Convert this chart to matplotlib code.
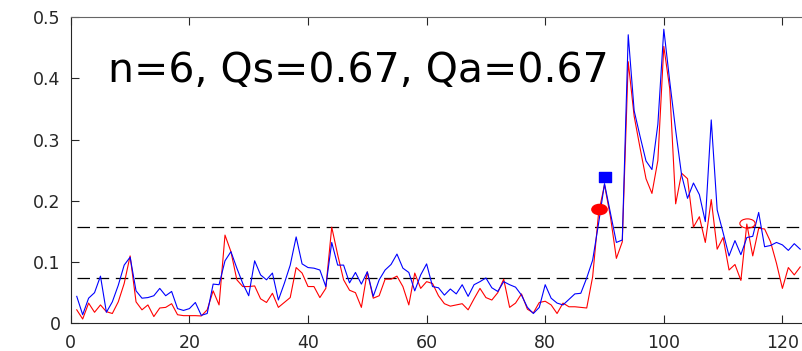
import matplotlib
matplotlib.use("Agg")
import matplotlib.pyplot as plt
import numpy as np
from matplotlib.path import Path

# measured values per step (blue = Qs series, red = Qa series)
steps = np.arange(1, 124)
blue = [0.044, 0.014, 0.041, 0.050, 0.077, 0.018, 0.035, 0.062, 0.095, 0.108,
        0.053, 0.041, 0.042, 0.045, 0.057, 0.045, 0.052, 0.024, 0.021, 0.024,
        0.034, 0.013, 0.016, 0.064, 0.063, 0.102, 0.117, 0.090, 0.065, 0.045,
        0.102, 0.079, 0.071, 0.082, 0.038, 0.065, 0.095, 0.141, 0.097, 0.091,
        0.090, 0.087, 0.060, 0.132, 0.095, 0.095, 0.066, 0.083, 0.064, 0.084,
        0.044, 0.071, 0.087, 0.096, 0.113, 0.090, 0.083, 0.053, 0.079, 0.097,
        0.060, 0.058, 0.046, 0.056, 0.048, 0.063, 0.044, 0.063, 0.068, 0.074,
        0.058, 0.052, 0.068, 0.063, 0.059, 0.046, 0.026, 0.016, 0.026, 0.063,
        0.041, 0.033, 0.030, 0.039, 0.048, 0.049, 0.074, 0.103, 0.163, 0.228,
        0.180, 0.132, 0.136, 0.471, 0.347, 0.305, 0.265, 0.251, 0.325, 0.480,
        0.395, 0.315, 0.242, 0.204, 0.229, 0.210, 0.166, 0.332, 0.185, 0.148,
        0.110, 0.135, 0.112, 0.140, 0.142, 0.181, 0.125, 0.127, 0.132, 0.128,
        0.119, 0.130, 0.121]
red = [0.022, 0.007, 0.033, 0.018, 0.030, 0.019, 0.016, 0.035, 0.065, 0.110,
       0.035, 0.022, 0.030, 0.011, 0.025, 0.026, 0.032, 0.014, 0.0125, 0.0125,
       0.0125, 0.012, 0.022, 0.053, 0.030, 0.144, 0.117, 0.071, 0.060, 0.060,
       0.061, 0.040, 0.034, 0.049, 0.026, 0.034, 0.042, 0.091, 0.082, 0.060,
       0.060, 0.042, 0.057, 0.157, 0.112, 0.071, 0.054, 0.050, 0.026, 0.084,
       0.041, 0.045, 0.072, 0.072, 0.077, 0.060, 0.030, 0.082, 0.057, 0.068,
       0.065, 0.045, 0.032, 0.028, 0.030, 0.032, 0.022, 0.040, 0.057, 0.042,
       0.038, 0.050, 0.072, 0.026, 0.033, 0.048, 0.023, 0.017, 0.034, 0.036,
       0.030, 0.016, 0.033, 0.027, 0.027, 0.026, 0.025, 0.076, 0.180, 0.226,
       0.174, 0.106, 0.133, 0.427, 0.338, 0.286, 0.236, 0.212, 0.266, 0.452,
       0.383, 0.195, 0.245, 0.236, 0.157, 0.174, 0.132, 0.202, 0.121, 0.140,
       0.087, 0.096, 0.070, 0.162, 0.110, 0.155, 0.154, 0.133, 0.098, 0.057,
       0.091, 0.079, 0.092]

thresholds = [0.157, 0.0745]

# detection marks
red_dot = (89.1, 0.187)
blue_square = (90.1, 0.238)
red_ring = (114.1, 0.163)

x_ticks = [0, 20, 40, 60, 80, 100, 120]
y_ticks = [0, 0.1, 0.2, 0.3, 0.4, 0.5]
title = "n=6, Qs=0.67, Qa=0.67"

plt.rcParams['lines.scale_dashes'] = False

fig = plt.figure(figsize=(8.02, 3.51), dpi=100)
ax = fig.add_axes([0.0883, 0.0789, 0.9612, 0.8727])

for t in thresholds:
    ax.plot([1, 130], [t, t], color='black', lw=0.9, dashes=(9, 4.8))

ax.plot(steps, red, color='#ff0000', lw=0.8)
ax.plot(steps, blue, color='#0000ff', lw=0.8)

# stretched marker shapes
circ = Path.unit_circle()
ellipse = Path(circ.vertices * [1.5, 1.0], circ.codes)
ring = Path(circ.vertices * [1.65, 1.0], circ.codes)
box = Path([(-1.12, -1), (1.12, -1), (1.12, 1), (-1.12, 1), (-1.12, -1)], closed=True)

ax.plot(*red_dot, marker=ellipse, ms=11, color='#ff0000', mec='#ff0000')
ax.plot(*blue_square, marker=box, ms=8.7, color='#0000ff', mec='#0000ff')
ax.plot(*red_ring, marker=ring, ms=11, mfc='none', mec='#ff0000', mew=0.8)

ax.text(6.3, 0.394, title, fontsize=29.5, color='black', va='baseline')

ax.set_xlim(0, 130)
ax.set_ylim(0, 0.5)
ax.set_xticks(x_ticks)
ax.set_yticks(y_ticks)
ax.set_yticklabels(['0', '0.1', '0.2', '0.3', '0.4', '0.5'])
ax.tick_params(direction='in', top=True, length=5.5, width=0.8,
               colors='#262626', labelsize=12.5, pad=7.5)
for side in ['left', 'bottom', 'top', 'right']:
    ax.spines[side].set_color('#262626')
    ax.spines[side].set_linewidth(0.8)
ax.spines['top'].set_color('#666666')

fig.savefig('out.png', dpi=100)
